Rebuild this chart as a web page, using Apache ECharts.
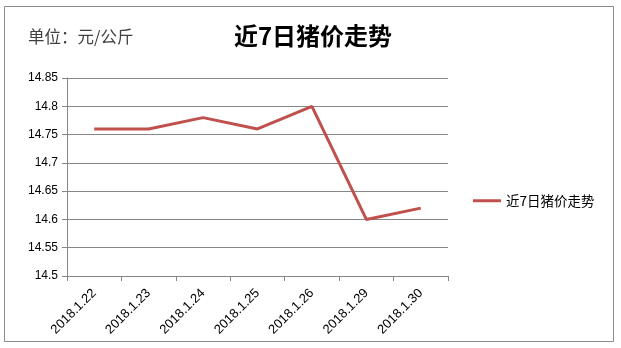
<!DOCTYPE html>
<html><head><meta charset="utf-8">
<script src="https://cdn.jsdelivr.net/npm/echarts@6/dist/echarts.min.js"></script>
<style>html,body{margin:0;padding:0;background:#fff}#c{width:621px;height:348px}</style>
</head><body><div id="c"></div>
<script>
const categories = ['2018.1.22','2018.1.23','2018.1.24','2018.1.25','2018.1.26','2018.1.29','2018.1.30'];
const prices = [14.76, 14.76, 14.78, 14.76, 14.80, 14.60, 14.62];
const seriesName = '近7日猪价走势';
const yMin = 14.5, yMax = 14.85, yStep = 0.05;

const chart = echarts.init(document.getElementById('c'), null, {renderer:'canvas'});
const font = '"Noto Sans CJK SC", "Liberation Sans", sans-serif';
chart.setOption({
  animation:false,
  backgroundColor:'#fff',
  graphic:[
    {type:'rect', shape:{x:4.5,y:6.5,width:609,height:335}, style:{fill:'none', stroke:'#8c8c8c', lineWidth:1}},
    {type:'text', left:28, top:28, style:{text:'单位：元/公斤', fill:'#404040', font:'16.5px '+font}}
  ],
  title:{text:'近7日猪价走势', left:308, top:19, textAlign:'center',
    textStyle:{fontSize:24, fontWeight:'bold', color:'#000', fontFamily:font}},
  legend:{data:[seriesName], left:468, top:189, itemWidth:28, itemHeight:3, itemGap:4,
    icon:'rect', textStyle:{fontSize:13.5, color:'#000', fontFamily:font}},
  grid:{left:67, right:173, top:78, bottom:72},
  xAxis:{type:'category', data:categories, boundaryGap:true,
    axisLine:{lineStyle:{color:'#868686'}},
    axisTick:{show:true, alignWithLabel:false, length:5, lineStyle:{color:'#868686'}},
    axisLabel:{rotate:45, color:'#000', fontSize:13, fontFamily:'"Liberation Sans", sans-serif', margin:15, interval:0}},
  yAxis:{type:'value', min:yMin, max:yMax, interval:yStep,
    axisLine:{show:true, lineStyle:{color:'#868686'}},
    axisTick:{show:true, length:5, lineStyle:{color:'#868686'}},
    splitLine:{lineStyle:{color:'#868686'}},
    axisLabel:{color:'#000', fontSize:12, fontFamily:'"Liberation Sans", sans-serif', margin:9,
      formatter: v => String(parseFloat(v.toFixed(2)))}},
  series:[{name:seriesName, type:'line', data:prices, symbol:'none',
    lineStyle:{color:'#C0504D', width:3}, itemStyle:{color:'#C0504D'}}]
});
</script></body></html>
